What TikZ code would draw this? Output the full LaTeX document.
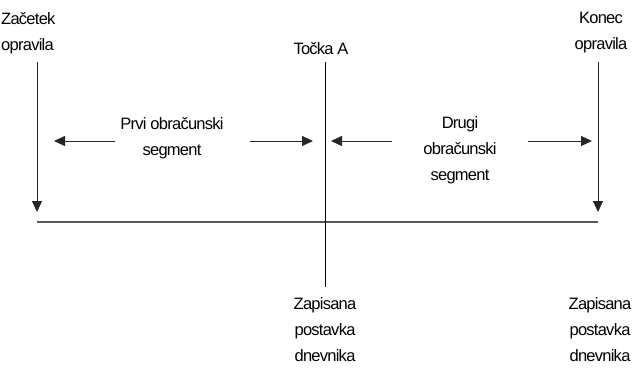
\documentclass[tikz,border=0pt]{standalone}
\usepackage{fontspec}
\setmainfont{Liberation Sans}[LetterSpace=-4.5]
\usetikzlibrary{arrows.meta}
\begin{document}
\begin{tikzpicture}[x=1pt,y=-1pt,
  lbl/.style={inner sep=0pt, align=center, font=\fontsize{16.5}{26}\selectfont},
  arr/.style={-{Triangle[length=11pt,width=10pt]}, line width=0.8pt, black!85},
  axis/.style={line width=1.3pt, black!65},
  mark line/.style={line width=0.7pt, black}
]
\useasboundingbox (0,0) rectangle (638,370);
% top labels
\node[lbl, align=left, anchor=west] (start) at (1,33) {Začetek\\opravila};
\node[lbl] (end) at (601,33) {Konec\\opravila};
\node[lbl] (pointA) at (321,49) {Točka A};
% segment labels
\node[lbl] (seg1) at (172,138) {Prvi obračunski\\segment};
\node[lbl] (seg2) at (460,150) {Drugi\\obračunski\\segment};
% bottom labels
\node[lbl] (log1) at (325,330) {Zapisana\\postavka\\dnevnika};
\node[lbl] (log2) at (600,330) {Zapisana\\postavka\\dnevnika};
% coordinates
\coordinate (s1) at (37,62);  \coordinate (s2) at (37,212);
\coordinate (e1) at (598,62); \coordinate (e2) at (598,212);
\coordinate (axL) at (37,222); \coordinate (axR) at (598,222);
\coordinate (a1) at (325,62); \coordinate (a2) at (325,287);
\coordinate (p1a) at (115,141); \coordinate (p1b) at (54,141);
\coordinate (p2a) at (250,141); \coordinate (p2b) at (313,141);
\coordinate (q1a) at (392,141); \coordinate (q1b) at (331,141);
\coordinate (q2a) at (528,141); \coordinate (q2b) at (592,141);
% lines
\draw[axis] (axL) -- (axR);
\draw[mark line] (a1) -- (a2);
\draw[arr] (s1) -- (s2);
\draw[arr] (e1) -- (e2);
\draw[arr] (p1a) -- (p1b);
\draw[arr] (p2a) -- (p2b);
\draw[arr] (q1a) -- (q1b);
\draw[arr] (q2a) -- (q2b);
\end{tikzpicture}
\end{document}
